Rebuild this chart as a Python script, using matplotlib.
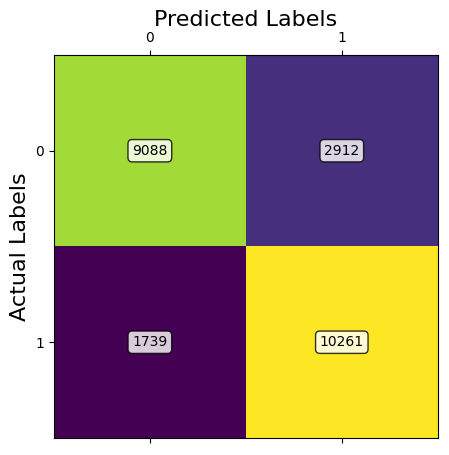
import matplotlib
matplotlib.use("Agg")
import matplotlib.pyplot as plt
import numpy as np

labels = ["0", "1"]
cm = np.array([[9088, 2912], [1739, 10261]])

fig = plt.figure(figsize=(4.49, 4.55), dpi=100)
ax = fig.add_axes([0.120, 0.0374, 0.855, 0.8418])
ax.matshow(cm, cmap="viridis", aspect="auto")
for i in range(cm.shape[0]):
    for j in range(cm.shape[1]):
        ax.text(j, i, str(cm[i, j]), ha="center", va="center", fontsize=10,
                bbox=dict(boxstyle="round", facecolor="white", alpha=0.8))
ax.set_xticks(range(len(labels)))
ax.set_yticks(range(len(labels)))
ax.set_xticklabels(labels)
ax.set_yticklabels(labels)
ax.set_xlabel("Predicted Labels", fontsize=16)
ax.xaxis.set_label_position("top")
ax.set_ylabel("Actual Labels", fontsize=16)
fig.savefig("out.png", dpi=100)
